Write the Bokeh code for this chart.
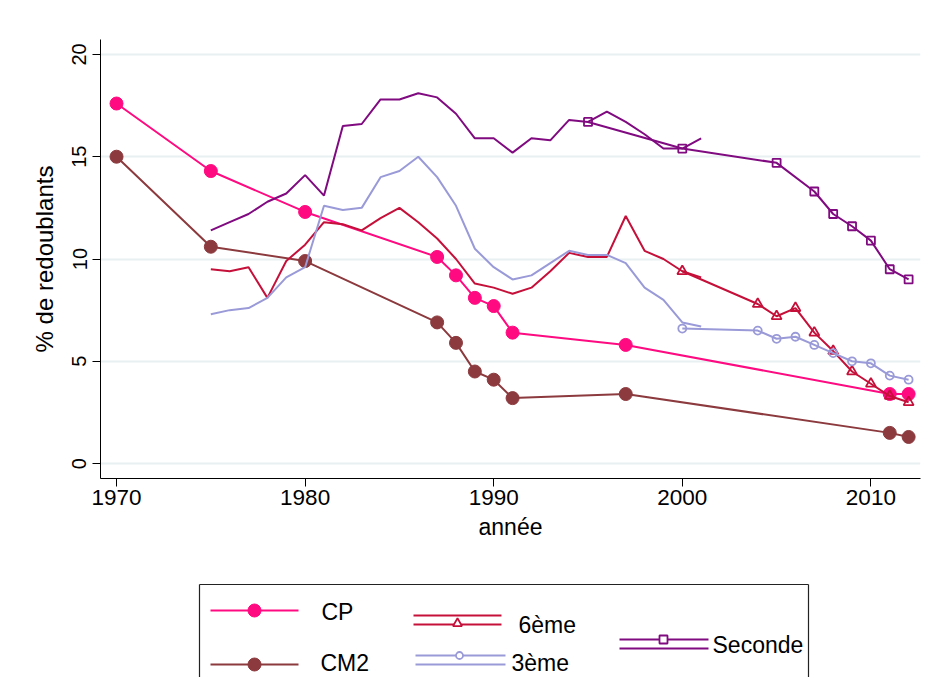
from bokeh.plotting import figure
from bokeh.models import Range1d, FixedTicker, Spacer
from bokeh.layouts import column, row
from bokeh.core.properties import value
from bokeh.embed import file_html
from bokeh.resources import INLINE

# ---------------- data ----------------
years_pts = [1970, 1975, 1980, 1987, 1988, 1989, 1990, 1991, 1997, 2011, 2012]
cp = [17.6, 14.3, 12.3, 10.1, 9.2, 8.1, 7.7, 6.4, 5.8, 3.4, 3.4]
cm2 = [15.0, 10.6, 9.9, 6.9, 5.9, 4.5, 4.1, 3.2, 3.4, 1.5, 1.3]

years_annual = [1975, 1976, 1977, 1978, 1979, 1980, 1981, 1982, 1983, 1984,
                1985, 1986, 1987, 1988, 1989, 1990, 1991, 1992, 1993, 1994,
                1995, 1996, 1997, 1998, 1999, 2000, 2001]
sixieme_old = [9.5, 9.4, 9.6, 8.1, 9.9, 10.7, 11.8, 11.7, 11.4, 12.0,
               12.5, 11.8, 11.0, 10.0, 8.8, 8.6, 8.3, 8.6, 9.4, 10.3,
               10.1, 10.1, 12.1, 10.4, 10.0, 9.4, 9.1]
troisieme_old = [7.3, 7.5, 7.6, 8.1, 9.1, 9.6, 12.6, 12.4, 12.5, 14.0,
                 14.3, 15.0, 14.0, 12.6, 10.5, 9.6, 9.0, 9.2, 9.8, 10.4,
                 10.2, 10.2, 9.8, 8.6, 8.0, 6.9, 6.7]
seconde_old = [11.4, 11.8, 12.2, 12.8, 13.2, 14.1, 13.1, 16.5, 16.6, 17.8,
               17.8, 18.1, 17.9, 17.1, 15.9, 15.9, 15.2, 15.9, 15.8, 16.8,
               16.7, 17.2, 16.7, 16.1, 15.4, 15.4, 15.9]

years_college = [2000, 2004, 2005, 2006, 2007, 2008, 2009, 2010, 2011, 2012]
sixieme_new = [9.4, 7.8, 7.2, 7.6, 6.4, 5.5, 4.5, 3.9, 3.3, 3.0]
troisieme_new = [6.6, 6.5, 6.1, 6.2, 5.8, 5.4, 5.0, 4.9, 4.3, 4.1]

years_lycee = [1995, 2000, 2005, 2007, 2008, 2009, 2010, 2011, 2012]
seconde_new = [16.7, 15.4, 14.7, 13.3, 12.2, 11.6, 10.9, 9.5, 9.0]

x_ticks = [1970, 1980, 1990, 2000, 2010]
y_ticks = [0, 5, 10, 15, 20]
labels = ["CP", "CM2", "6ème", "3ème", "Seconde"]

# ---------------- style ----------------
FONT = "Liberation Sans"
C_CP = "#ff0a80"
C_CM2 = "#8c3a3e"
C_6 = "#c5103a"
C_3 = "#9a9ad8"
C_2 = "#800a80"
GRID = "#e8f0f2"

MAIN_H = 560
p = figure(width=921, height=MAIN_H, output_backend="svg", toolbar_location=None,
           x_range=Range1d(1969.15, 2012.63), y_range=Range1d(-0.73, 20.73),
           min_border_left=100, min_border_top=39, min_border_right=1,
           min_border_bottom=MAIN_H - 478)
p.outline_line_color = None
p.background_fill_color = "white"
p.border_fill_color = "white"
p.xgrid.visible = False
p.ygrid.grid_line_color = GRID
p.ygrid.grid_line_width = 2

for ax in (p.xaxis[0], p.yaxis[0]):
    ax.axis_line_color = "black"
    ax.axis_line_width = 1
    ax.major_tick_line_color = "black"
    ax.major_tick_out = 8
    ax.major_tick_in = 0
    ax.minor_tick_line_color = None
    ax.major_label_text_font = FONT
    ax.major_label_text_color = "black"
    ax.axis_label_text_font = FONT
    ax.axis_label_text_font_style = "normal"
    ax.axis_label_text_color = "black"

p.xaxis.ticker = FixedTicker(ticks=x_ticks)
p.yaxis.ticker = FixedTicker(ticks=y_ticks)
p.ygrid.ticker = FixedTicker(ticks=y_ticks)
p.xaxis.major_label_text_font_size = "22.5px"
p.yaxis.major_label_text_font_size = "20px"
p.yaxis.major_label_orientation = "vertical"
p.xaxis.axis_label = "année"
p.yaxis.axis_label = "% de redoublants"
p.xaxis.axis_label_text_font_size = "23px"
p.yaxis.axis_label_text_font_size = "24px"
p.xaxis.major_label_standoff = 3
p.xaxis.axis_label_standoff = 6
p.yaxis.major_label_standoff = 6
p.yaxis.axis_label_standoff = 12

# CP
p.line(years_pts, cp, line_color=C_CP, line_width=2)
p.scatter(years_pts, cp, marker="circle", size=13, fill_color=C_CP, line_color=C_CP)
# CM2
p.line(years_pts, cm2, line_color=C_CM2, line_width=2)
p.scatter(years_pts, cm2, marker="circle", size=13, fill_color=C_CM2, line_color=C_CM2)
# 6eme
p.line(years_annual, sixieme_old, line_color=C_6, line_width=2)
p.line(years_college, sixieme_new, line_color=C_6, line_width=2)
p.scatter(years_college, sixieme_new, marker="triangle", size=10, fill_color=None,
          line_color=C_6, line_width=1.8)
# 3eme
p.line(years_annual, troisieme_old, line_color=C_3, line_width=2)
p.line(years_college, troisieme_new, line_color=C_3, line_width=2)
p.scatter(years_college, troisieme_new, marker="circle", size=8, fill_color=None,
          line_color=C_3, line_width=1.8)
# Seconde
p.line(years_annual, seconde_old, line_color=C_2, line_width=2)
p.line(years_lycee, seconde_new, line_color=C_2, line_width=2)
p.scatter(years_lycee, seconde_new, marker="square", size=8, fill_color=None,
          line_color=C_2, line_width=1.8)

# ---------------- legend (its own panel, in picture-pixel coordinates) ----------------
L_X0, L_X1, L_Y0, L_Y1 = 190, 820, MAIN_H, 677
lg = figure(width=L_X1 - L_X0, height=L_Y1 - L_Y0, output_backend="svg",
            toolbar_location=None, x_range=Range1d(L_X0, L_X1),
            y_range=Range1d(L_Y1, L_Y0), min_border=0)
lg.axis.visible = False
lg.grid.visible = False
lg.outline_line_color = None
lg.background_fill_color = "white"
lg.border_fill_color = "white"

# box: left, top, right sides (bottom is cut off in the original)
lg.segment(x0=[199, 199, 808], y0=[690, 584, 584], x1=[199, 808, 808], y1=[584, 584, 690],
           line_color="#222222", line_width=1.2)

# CP key
lg.segment(x0=[210], y0=[610], x1=[298], y1=[610], line_color=C_CP, line_width=2)
lg.scatter([254], [610], marker="circle", size=13, fill_color=C_CP, line_color=C_CP)
# CM2 key
lg.segment(x0=[210], y0=[664], x1=[298], y1=[664], line_color=C_CM2, line_width=2)
lg.scatter([254], [664], marker="circle", size=13, fill_color=C_CM2, line_color=C_CM2)
# 6eme key
lg.segment(x0=[413, 413], y0=[615, 624], x1=[501, 501], y1=[615, 624],
           line_color=C_6, line_width=2)
lg.scatter([457], [623], marker="triangle", size=9, fill_color="white",
           line_color=C_6, line_width=1.8)
# 3eme key
lg.segment(x0=[415, 415], y0=[655, 664], x1=[505, 505], y1=[655, 664],
           line_color=C_3, line_width=2)
lg.scatter([459], [655], marker="circle", size=7, fill_color="white",
           line_color=C_3, line_width=1.8)
# Seconde key
lg.segment(x0=[619, 619], y0=[639, 648], x1=[708, 708], y1=[639, 648],
           line_color=C_2, line_width=2)
lg.scatter([663], [639], marker="square", size=8, fill_color="white",
           line_color=C_2, line_width=1.8)

lg.text(x=[321, 320, 518, 511, 712], y=[611, 662, 624, 662, 644], text=labels,
        text_font=value(FONT), text_font_size="23px", text_color="black",
        text_baseline="middle", text_align="left")

layout = column(p, row(Spacer(width=L_X0), lg))

open("out.html", "w").write(file_html(layout, INLINE))
